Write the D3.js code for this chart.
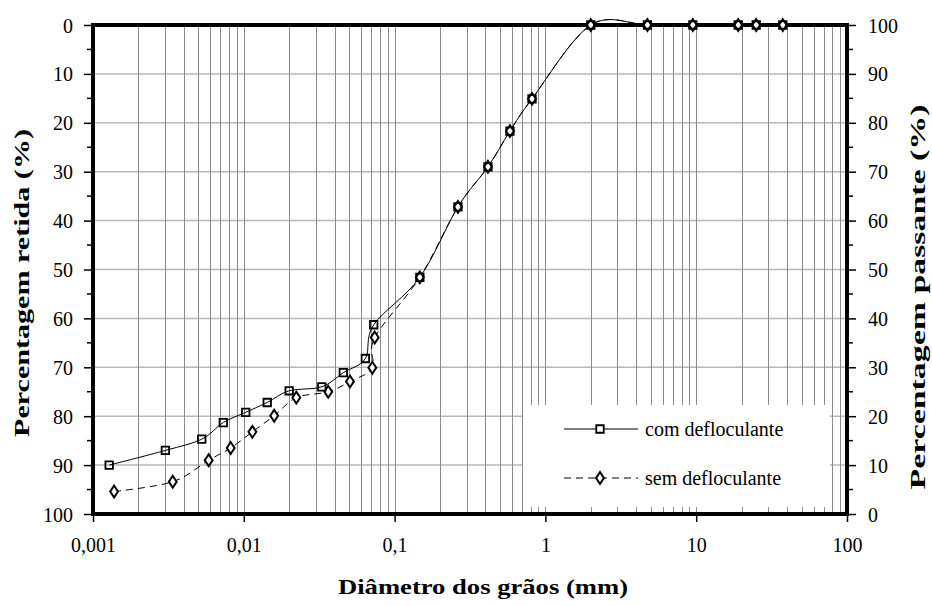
<!DOCTYPE html>
<html>
<head>
<meta charset="utf-8">
<script src="https://cdn.jsdelivr.net/npm/d3@7"></script>
<style>
  body { margin: 0; background: #fff; }
  text { font-family: "Liberation Serif", "Times New Roman", serif; fill: #000; }
</style>
</head>
<body>
<svg id="chart" width="932" height="606"></svg>
<script>
// diameters (mm) and percentage retained, com defloculante
var comDiam = [0.00128, 0.00302, 0.00526, 0.00731, 0.0103, 0.0143, 0.020, 0.0329, 0.0457, 0.064, 0.0727,
               0.147, 0.263, 0.416, 0.582, 0.815, 2.0, 4.75, 9.5, 19, 25, 37.5];
var comRetida = [90, 87, 84.7, 81.3, 79.2, 77.2, 74.8, 74, 71.1, 68.2, 61.3,
                 51.6, 37.2, 29, 21.7, 15.1, 0, 0, 0, 0, 0, 0];

// sem defloculante (sieve part shared with the other series)
var semDiam = [0.00138, 0.00338, 0.00585, 0.00819, 0.0114, 0.0159, 0.0223, 0.0363, 0.0506, 0.0712, 0.0738,
               0.147, 0.263, 0.416, 0.582, 0.815, 2.0, 4.75, 9.5, 19, 25, 37.5];
var semRetida = [95.4, 93.4, 89, 86.5, 83.2, 79.9, 76.2, 75, 72.9, 70.1, 63.9,
                 51.6, 37.2, 29, 21.7, 15.1, 0, 0, 0, 0, 0, 0];

var xTicks = [0.001, 0.01, 0.1, 1, 10, 100];
var xTickLabels = ["0,001", "0,01", "0,1", "1", "10", "100"];
var yTicks = [0, 10, 20, 30, 40, 50, 60, 70, 80, 90, 100];
var legendNames = ["com defloculante", "sem defloculante"];

var mLeft = 93, mRight = 847, mTop = 25, mBottom = 514;

var svg = d3.select("#chart");

var x = d3.scaleLog().domain([0.001, 100]).range([mLeft, mRight]);
var yL = d3.scaleLinear().domain([0, 100]).range([mTop, mBottom]);
var yR = d3.scaleLinear().domain([100, 0]).range([mTop, mBottom]);

// grid
var minor = [];
for (var k = -3; k <= 1; k++) {
    for (var m = 1; m <= 9; m++) minor.push(m * Math.pow(10, k));
}
svg.append("g").selectAll("line")
    .data(yTicks.slice(1, -1))
    .enter().append("line")
    .attr("x1", mLeft).attr("x2", mRight)
    .attr("y1", function (d) { return yL(d); })
    .attr("y2", function (d) { return yL(d); })
    .attr("stroke", "#b8b8b8").attr("stroke-width", 1.5);

svg.append("g").selectAll("line")
    .data(minor.slice(1))
    .enter().append("line")
    .attr("x1", function (d) { return Math.round(x(d)) + 0.5; })
    .attr("x2", function (d) { return Math.round(x(d)) + 0.5; })
    .attr("y1", mTop).attr("y2", mBottom)
    .attr("stroke", "#8a8a8a").attr("stroke-width", 1);

// legend box (white, hides grid)
var legend = svg.append("g");
legend.append("rect")
    .attr("x", 523).attr("y", 405).attr("width", 307).attr("height", 102)
    .attr("fill", "#fff");

// axes
var leftAxis = d3.axisLeft(yL).tickValues(yTicks).tickSize(9).tickFormat(d3.format("d"));
var rightAxis = d3.axisRight(yR).tickValues(yTicks).tickSize(9).tickFormat(d3.format("d"));
var bottomAxis = d3.axisBottom(x).tickValues(xTicks).tickSize(8)
    .tickFormat(function (d, i) { return xTickLabels[i]; });

function styleAxis(g) {
    g.select(".domain").remove();
    g.selectAll("line").attr("stroke", "#000").attr("stroke-width", 1.5);
    g.selectAll("text").attr("font-size", 20).attr("font-family", "Liberation Serif");
}

svg.append("g").attr("transform", "translate(" + mLeft + ",0)").call(leftAxis).call(styleAxis)
    .selectAll("text").attr("x", -20).attr("dy", "0.35em");
svg.append("g").attr("transform", "translate(" + mRight + ",0)").call(rightAxis).call(styleAxis)
    .selectAll("text").attr("x", 21).attr("dy", "0.35em");
svg.append("g").attr("transform", "translate(0," + mBottom + ")").call(bottomAxis).call(styleAxis)
    .selectAll("text").attr("y", 24);

// minor ticks at the 5s on both y axes
var fives = d3.range(5, 100, 10);
svg.append("g").selectAll("line").data(fives).enter().append("line")
    .attr("x1", mLeft - 6).attr("x2", mLeft)
    .attr("y1", function (d) { return yL(d); }).attr("y2", function (d) { return yL(d); })
    .attr("stroke", "#000").attr("stroke-width", 1.5);
svg.append("g").selectAll("line").data(fives).enter().append("line")
    .attr("x1", mRight).attr("x2", mRight + 6)
    .attr("y1", function (d) { return yL(d); }).attr("y2", function (d) { return yL(d); })
    .attr("stroke", "#000").attr("stroke-width", 1.5);

// frame
svg.append("rect")
    .attr("x", mLeft).attr("y", mTop)
    .attr("width", mRight - mLeft).attr("height", mBottom - mTop)
    .attr("fill", "none").attr("stroke", "#000").attr("stroke-width", 4);

// series
var line = d3.line().curve(d3.curveCatmullRom.alpha(0));
var comPts = comDiam.map(function (d, i) { return [x(d), yL(comRetida[i])]; });
var semPts = semDiam.map(function (d, i) { return [x(d), yL(semRetida[i])]; });

svg.append("path").attr("d", line(semPts))
    .attr("fill", "none").attr("stroke", "#000").attr("stroke-width", 1)
    .attr("stroke-dasharray", "7,5");
svg.append("path").attr("d", line(comPts))
    .attr("fill", "none").attr("stroke", "#000").attr("stroke-width", 1);

var sym = d3.symbol().type(d3.symbolDiamond).size(40);
var sq = d3.symbol().type(d3.symbolSquare).size(56);

svg.append("g").selectAll("path").data(semPts).enter().append("path")
    .attr("d", sym)
    .attr("transform", function (d) { return "translate(" + d[0] + "," + d[1] + ") scale(1.15,1)"; })
    .attr("fill", "#fff").attr("stroke", "#000").attr("stroke-width", 1.8);
svg.append("g").selectAll("path").data(comPts).enter().append("path")
    .attr("d", sq)
    .attr("transform", function (d) { return "translate(" + d[0] + "," + d[1] + ")"; })
    .attr("fill", "none").attr("stroke", "#000").attr("stroke-width", 1.8);

// legend content
var legY = [429, 478];
legend.selectAll("line.l").data(legendNames).enter().append("line")
    .attr("x1", 564).attr("x2", 638)
    .attr("y1", function (d, i) { return legY[i]; }).attr("y2", function (d, i) { return legY[i]; })
    .attr("stroke", "#000").attr("stroke-width", 1)
    .attr("stroke-dasharray", function (d, i) { return i ? "7,5" : null; });
legend.append("path").attr("d", sq)
    .attr("transform", "translate(600," + legY[0] + ")")
    .attr("fill", "#fff").attr("stroke", "#000").attr("stroke-width", 1.8);
legend.append("path").attr("d", sym)
    .attr("transform", "translate(600," + legY[1] + ") scale(1.15,1)")
    .attr("fill", "#fff").attr("stroke", "#000").attr("stroke-width", 1.8);
legend.selectAll("text").data(legendNames).enter().append("text")
    .attr("x", 645).attr("y", function (d, i) { return legY[i]; })
    .attr("dy", "0.35em").attr("font-size", 20)
    .text(function (d) { return d; });

// titles
svg.append("text")
    .attr("x", 483).attr("y", 594).attr("text-anchor", "middle")
    .attr("font-size", 22).attr("font-weight", "bold")
    .attr("textLength", 290).attr("lengthAdjust", "spacingAndGlyphs")
    .text("Diâmetro dos grãos (mm)");
svg.append("text")
    .attr("transform", "translate(29,283) rotate(-90)")
    .attr("text-anchor", "middle")
    .attr("font-size", 22).attr("font-weight", "bold")
    .attr("textLength", 308).attr("lengthAdjust", "spacingAndGlyphs")
    .text("Percentagem retida (%)");
svg.append("text")
    .attr("transform", "translate(925,297) rotate(-90)")
    .attr("text-anchor", "middle")
    .attr("font-size", 22).attr("font-weight", "bold")
    .attr("textLength", 385).attr("lengthAdjust", "spacingAndGlyphs")
    .text("Percentagem passante (%)");
</script>
</body>
</html>
